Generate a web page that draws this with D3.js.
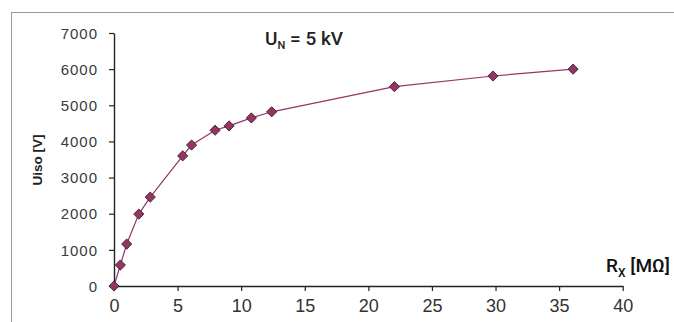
<!DOCTYPE html>
<html>
<head>
<meta charset="utf-8">
<script src="https://cdn.jsdelivr.net/npm/d3@7"></script>
<style>
  html, body { margin: 0; padding: 0; background: #fff; }
  svg { display: block; font-family: "Liberation Sans", Arial, sans-serif; }
</style>
</head>
<body>
<svg id="chart" width="674" height="322"></svg>
<script>
// Measured points: resistance Rx [MOhm] vs. test voltage Uiso [V]
const rx = [0, 0.5, 1.0, 1.95, 2.85, 5.4, 6.1, 7.95, 9.05, 10.8, 12.4, 22.05, 29.8, 36.1];
const uiso = [0, 580, 1160, 1990, 2460, 3600, 3900, 4310, 4430, 4650, 4820, 5515, 5810, 6000];
const xTicks = [0, 5, 10, 15, 20, 25, 30, 35, 40];
const yTicks = [0, 1000, 2000, 3000, 4000, 5000, 6000, 7000];

const SERIES_COLOR = '#993366';
const AXIS_COLOR = '#222';

const svg = d3.select('#chart');

// outer frame (only top and left edges fall inside the picture)
svg.append('rect')
  .attr('x', 11.5).attr('y', 12.5)
  .attr('width', 800).attr('height', 500)
  .attr('fill', 'none')
  .attr('stroke', '#9a9a9a');

const x = d3.scaleLinear().domain([0, 40]).range([114, 622.7]);
const y = d3.scaleLinear().domain([0, 7000]).range([286, 33]);

// x axis
const gx = svg.append('g')
  .attr('transform', `translate(0,${y(0)})`)
  .call(d3.axisBottom(x).tickValues(xTicks).tickSize(5).tickSizeOuter(0));
gx.select('.domain').attr('stroke', AXIS_COLOR).attr('stroke-width', 1.4);
gx.selectAll('.tick line').attr('stroke', AXIS_COLOR).attr('stroke-width', 1.2);
gx.selectAll('.tick text')
  .attr('y', 26).attr('dy', 0)
  .attr('font-size', 18)
  .attr('fill', '#333')
  .attr('font-family', '"Liberation Sans", Arial, sans-serif');

// y axis
const gy = svg.append('g')
  .attr('transform', `translate(${x(0)},0)`)
  .call(d3.axisLeft(y).tickValues(yTicks).tickSize(5).tickSizeOuter(0).tickFormat(d3.format('d')));
gy.select('.domain').attr('stroke', AXIS_COLOR).attr('stroke-width', 1.4);
gy.selectAll('.tick line').attr('stroke', AXIS_COLOR).attr('stroke-width', 1.2);
gy.selectAll('.tick text')
  .attr('x', -16).attr('dy', '0.35em')
  .attr('font-size', 15)
  .attr('letter-spacing', 1)
  .attr('fill', '#3a3a3a')
  .attr('font-family', '"Liberation Sans", Arial, sans-serif');

// series line
const points = rx.map((d, i) => [d, uiso[i]]);
const line = d3.line().x(d => x(d[0])).y(d => y(d[1]));
svg.append('path')
  .datum(points)
  .attr('d', line)
  .attr('fill', 'none')
  .attr('stroke', SERIES_COLOR)
  .attr('stroke-width', 1.2);

// diamond markers
const diamond = d3.symbol().type(d3.symbolSquare).size(52);
svg.selectAll('path.marker')
  .data(points)
  .join('path')
  .attr('class', 'marker')
  .attr('d', diamond)
  .attr('transform', d => `translate(${x(d[0])},${y(d[1])}) rotate(45)`)
  .attr('fill', SERIES_COLOR)
  .attr('stroke', '#222')
  .attr('stroke-width', 0.8);

// y axis title
svg.append('text')
  .attr('transform', 'translate(42,160) rotate(-90)')
  .attr('text-anchor', 'middle')
  .attr('font-size', 13.5)
  .attr('font-weight', 'bold')
  .attr('fill', '#222')
  .text('Uiso [V]');

// annotation U_N = 5 kV
const title = svg.append('text')
  .attr('x', 265).attr('y', 45)
  .attr('font-family', 'Roboto, "Liberation Sans", sans-serif')
  .attr('font-size', 19)
  .attr('font-weight', 500)
  .attr('fill', '#222');
title.append('tspan').text('U');
title.append('tspan').attr('font-size', 11).attr('dy', 4).text('N');
title.append('tspan').attr('dy', -4).text(' = 5 kV');

// x axis title R_X [MΩ]
const xTitle = svg.append('text')
  .attr('x', 606).attr('y', 272)
  .attr('font-family', 'Roboto, "Liberation Sans", sans-serif')
  .attr('font-size', 19)
  .attr('font-weight', 500)
  .attr('fill', '#111');
xTitle.append('tspan').text('R');
xTitle.append('tspan').attr('font-size', 12).attr('dy', 5).text('X');
xTitle.append('tspan').attr('dy', -5).text(' [MΩ]');
</script>
</body>
</html>
